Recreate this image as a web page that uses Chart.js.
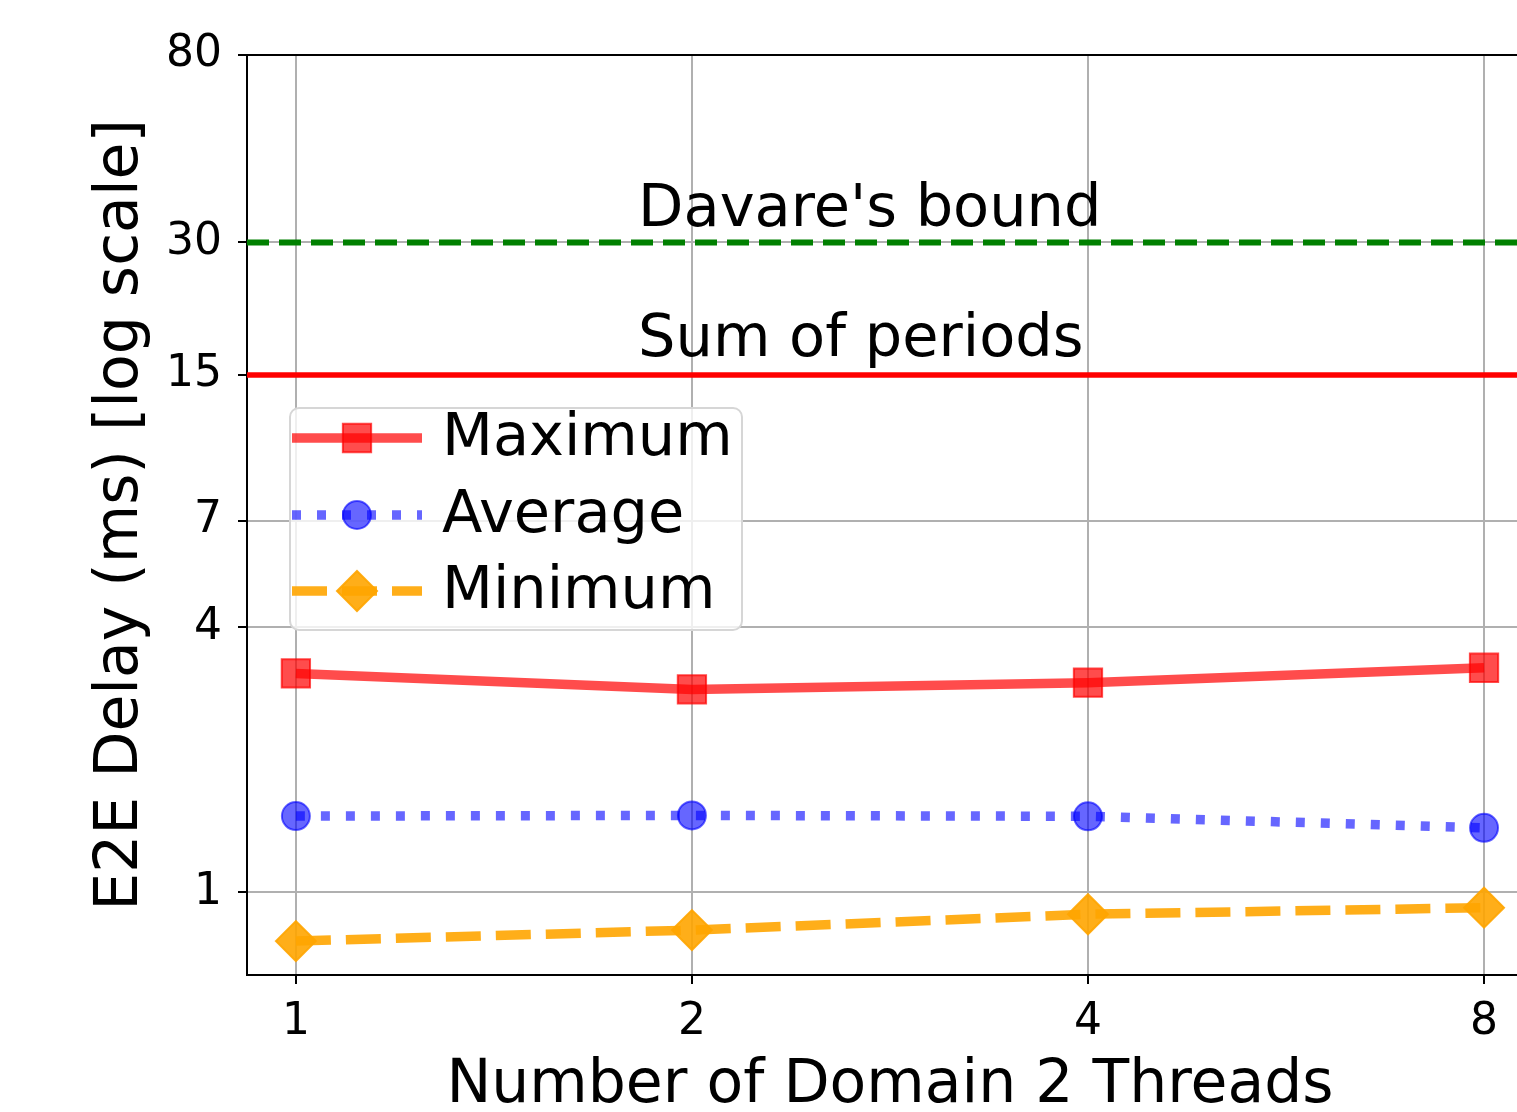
<!DOCTYPE html>
<html>
<head>
<meta charset="utf-8">
<script src="https://cdn.jsdelivr.net/npm/chart.js@4.4.1/dist/chart.umd.min.js"></script>
<style>
    html, body { margin: 0; padding: 0; background: #fff; overflow: hidden; }
</style>
</head>
<body>
<canvas id="grafE2E" width="1560" height="1112"></canvas>
<script>
// datos
const hilos = [1, 2, 4, 8];
const retMaximo = [3.145, 2.893, 2.996, 3.24];
const retPromedio = [1.491, 1.496, 1.489, 1.402];
const retMinimo = [0.775, 0.821, 0.892, 0.923];
const ticksY = [1, 4, 7, 15, 30, 80];
const cotaDavare = 30;
const sumaPeriodos = 15;
const nombresSeries = ['Maximum', 'Average', 'Minimum'];
const textosLineas = ["Davare's bound", 'Sum of periods'];

const fuente = "'DejaVu Sans', sans-serif";
const xMin = 0.918, xMax = 8.716;

function puntos(vals) {
    return vals.map((v, i) => ({ x: hilos[i], y: v }));
}

// dibuja un marcador como el de la serie
function marcador(ctx, estilo, x, y, r, relleno, borde) {
    ctx.beginPath();
    if (estilo === 'rect') {
        const s = r * Math.SQRT1_2;
        ctx.rect(x - s, y - s, 2 * s, 2 * s);
    } else if (estilo === 'rectRot') {
        ctx.moveTo(x, y - r);
        ctx.lineTo(x + r, y);
        ctx.lineTo(x, y + r);
        ctx.lineTo(x - r, y);
        ctx.closePath();
    } else {
        ctx.arc(x, y, r, 0, Math.PI * 2);
    }
    ctx.fillStyle = relleno;
    ctx.fill();
    ctx.lineWidth = 2;
    ctx.strokeStyle = borde;
    ctx.stroke();
}

// textos sobre las lineas horizontales
const textosPlugin = {
    id: 'textos',
    afterDatasetsDraw(chart) {
        const ctx = chart.ctx;
        const sx = chart.scales.x, sy = chart.scales.y;
        ctx.save();
        ctx.font = '59px ' + fuente;
        ctx.fillStyle = '#000';
        ctx.textAlign = 'left';
        ctx.textBaseline = 'alphabetic';
        ctx.fillText(textosLineas[0], sx.getPixelForValue(1.82), sy.getPixelForValue(32.7));
        ctx.fillText(textosLineas[1], sx.getPixelForValue(1.82), sy.getPixelForValue(16.6));
        ctx.restore();
    }
};

// leyenda dentro del area
const leyendaPlugin = {
    id: 'leyenda',
    afterDraw(chart) {
        const ctx = chart.ctx;
        const x0 = 290, y0 = 408, w = 452, h = 222, rad = 9;
        ctx.save();
        ctx.beginPath();
        ctx.moveTo(x0 + rad, y0);
        ctx.arcTo(x0 + w, y0, x0 + w, y0 + h, rad);
        ctx.arcTo(x0 + w, y0 + h, x0, y0 + h, rad);
        ctx.arcTo(x0, y0 + h, x0, y0, rad);
        ctx.arcTo(x0, y0, x0 + w, y0, rad);
        ctx.closePath();
        ctx.fillStyle = 'rgba(255,255,255,0.8)';
        ctx.fill();
        ctx.lineWidth = 2;
        ctx.strokeStyle = '#d6d6d6';
        ctx.stroke();

        const filas = [438, 515, 591];
        chart.data.datasets.forEach(ds => {
            const i = nombresSeries.indexOf(ds.label);
            if (i < 0) return;
            const y = filas[i];
            ctx.beginPath();
            ctx.setLineDash(ds.borderDash || []);
            ctx.lineDashOffset = 0;
            ctx.lineCap = 'butt';
            ctx.lineWidth = ds.borderWidth;
            ctx.strokeStyle = ds.borderColor;
            ctx.moveTo(292, y);
            ctx.lineTo(422, y);
            ctx.stroke();
            ctx.setLineDash([]);
            marcador(ctx, ds.pointStyle, 357, y, ds.pointRadius, ds.pointBackgroundColor, ds.pointBorderColor);
            ctx.font = '59px ' + fuente;
            ctx.fillStyle = '#000';
            ctx.textBaseline = 'middle';
            ctx.fillText(ds.label, 442, y + 2);
        });
        ctx.restore();
    }
};

function serie(nombre, vals, color, dash, estilo, radio) {
    return {
        label: nombre,
        data: puntos(vals),
        borderColor: color,
        backgroundColor: color,
        borderWidth: 9.5,
        borderDash: dash,
        borderCapStyle: 'butt',
        pointStyle: estilo,
        pointRadius: radio,
        pointBackgroundColor: color,
        pointBorderColor: color,
        pointBorderWidth: 2,
        tension: 0
    };
}

function lineaH(nombre, valor, color, ancho, dash) {
    return {
        label: nombre,
        data: [{ x: xMin, y: valor }, { x: xMax, y: valor }],
        borderColor: color,
        borderWidth: ancho,
        borderDash: dash,
        pointRadius: 0,
        clip: false
    };
}

const ctxE2E = document.getElementById('grafE2E').getContext('2d');
const grafE2E = new Chart(ctxE2E, {
    type: 'line',
    data: {
        datasets: [
            serie(nombresSeries[0], retMaximo, 'rgba(255,0,0,0.7)', [], 'rect', 20),
            serie(nombresSeries[1], retPromedio, 'rgba(0,0,255,0.6)', [9, 16], 'circle', 14),
            serie(nombresSeries[2], retMinimo, 'rgba(255,165,0,0.9)', [35, 15], 'rectRot', 20),
            lineaH(textosLineas[1], sumaPeriodos, '#ff0000', 5.5, []),
            lineaH(textosLineas[0], cotaDavare, '#008000', 6, [22, 10])
        ]
    },
    options: {
        responsive: false,
        animation: false,
        events: [],
        layout: { padding: { top: 55, right: 27, left: 0, bottom: 0 } },
        scales: {
            x: {
                type: 'logarithmic',
                bounds: 'data',
                min: xMin,
                max: xMax,
                afterBuildTicks: (s) => { s.ticks = hilos.map(v => ({ value: v })); },
                afterFit: (s) => { s.height = 137; },
                grid: { color: '#b0b0b0', lineWidth: 2, tickLength: 9, tickColor: '#000', tickWidth: 2 },
                border: { color: '#000', width: 2 },
                ticks: {
                    autoSkip: false,
                    maxRotation: 0,
                    padding: 12,
                    color: '#000',
                    font: { family: fuente, size: 44 },
                    callback: (v) => String(v)
                },
                title: {
                    display: true,
                    text: 'Number of Domain 2 Threads',
                    color: '#000',
                    font: { family: fuente, size: 60, lineHeight: 1 },
                    padding: { top: 0, bottom: -4 }
                }
            },
            y: {
                type: 'logarithmic',
                bounds: 'data',
                min: 0.649,
                max: 80,
                afterBuildTicks: (s) => { s.ticks = ticksY.map(v => ({ value: v })); },
                afterFit: (s) => { s.width = 247; },
                grid: {
                    color: (c) => (c.tick && c.tick.value === 80) ? '#000' : '#b0b0b0',
                    lineWidth: 2,
                    tickLength: 9,
                    tickColor: '#000',
                    tickWidth: 2
                },
                border: { color: '#000', width: 2 },
                ticks: {
                    autoSkip: false,
                    padding: 16,
                    color: '#000',
                    font: { family: fuente, size: 44 },
                    callback: (v) => String(v)
                },
                title: {
                    display: true,
                    text: 'E2E Delay (ms) [log scale]',
                    color: '#000',
                    font: { family: fuente, size: 60, lineHeight: 1 },
                    padding: { top: 91, bottom: 0 }
                }
            }
        },
        plugins: {
            legend: { display: false },
            tooltip: { enabled: false }
        }
    },
    plugins: [textosPlugin, leyendaPlugin]
});
</script>
</body>
</html>
